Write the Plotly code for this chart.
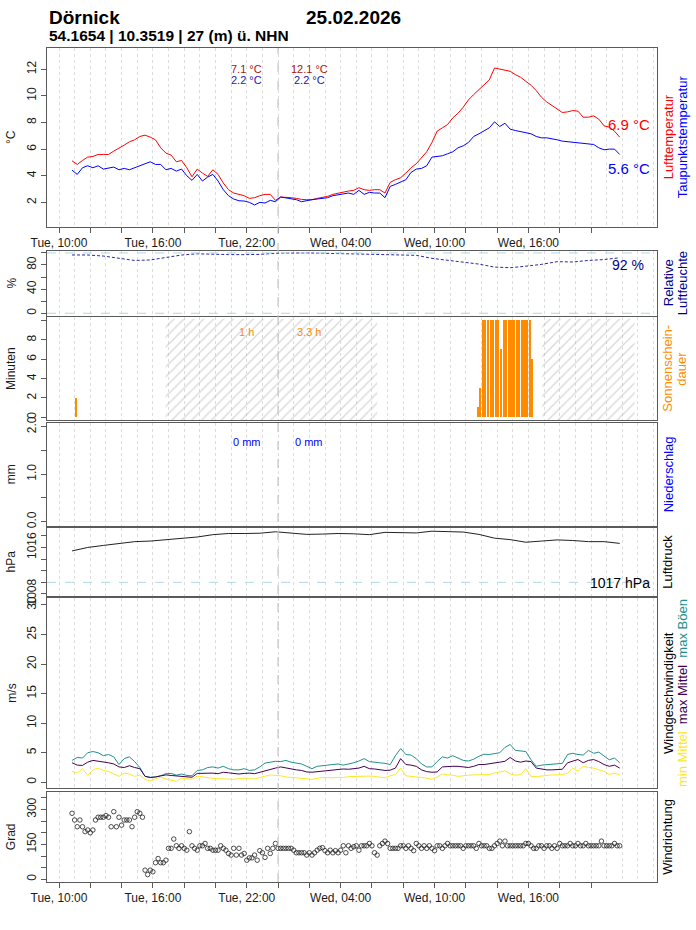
import pandas as pd
import plotly.graph_objects as go
from plotly.subplots import make_subplots

# station header
station = "Dörnick"
date_str = "25.02.2026"
location = "54.1654 | 10.3519 | 27 (m) ü. NHN"

# 20 minute series (Tue 24.02. 10:50 .. Wed 25.02. 21:50)
t20 = pd.date_range("2026-02-24 10:50", periods=106, freq="20min")
temp = [5.12, 4.85, 5.15, 5.4, 5.45, 5.6, 5.6, 5.6, 5.85, 6.05,
        6.3, 6.55, 6.7, 6.95, 7.05, 6.9, 6.7, 6.1, 5.7, 5.55,
        5.05, 5.15, 4.6, 3.92, 4.5, 4.2, 3.95, 4.45, 4.1, 3.45,
        2.95, 2.7, 2.6, 2.5, 2.3, 2.35, 2.5, 2.6, 2.6, 2.15,
        2.4, 2.4, 2.35, 2.3, 2.22, 2.2, 2.2, 2.3, 2.35, 2.45,
        2.6, 2.7, 2.75, 2.85, 2.9, 3.1, 2.95, 2.9, 2.95, 2.95,
        2.7, 3.5, 3.7, 3.85, 4.2, 4.6, 4.9, 5.35, 5.8, 6.5,
        7.35, 7.6, 7.85, 8.35, 8.7, 9.15, 9.7, 10.1, 10.45, 10.8,
        11.2, 12.1, 12.0, 11.9, 11.85, 11.6, 11.4, 11.1, 10.8, 10.4,
        9.9, 9.55, 9.3, 9.05, 8.75, 8.8, 8.9, 8.85, 8.4, 8.4,
        8.5, 8.25, 7.75, 7.65, 7.35, 6.9]
dewpoint = [4.42, 4.1, 4.6, 4.75, 4.6, 4.75, 4.5, 4.55, 4.65, 4.45,
            4.55, 4.45, 4.6, 4.7, 4.85, 5.05, 4.85, 4.85, 4.45, 4.55,
            4.35, 4.5, 4.0, 3.65, 4.1, 3.6, 3.9, 4.1, 3.6, 2.95,
            2.5, 2.25, 2.12, 2.1, 2.0, 1.8, 2.0, 1.95, 2.15, 2.05,
            2.4, 2.35, 2.3, 2.2, 2.05, 2.15, 2.2, 2.25, 2.3, 2.35,
            2.5, 2.55, 2.65, 2.7, 2.6, 2.9, 2.6, 2.75, 2.7, 2.7,
            2.35, 3.2, 3.35, 3.5, 3.7, 4.25, 4.5, 4.55, 4.75, 5.4,
            5.45, 5.5, 5.65, 5.8, 6.1, 6.25, 6.5, 6.95, 7.15, 7.35,
            7.6, 8.05, 7.7, 7.95, 7.5, 7.4, 7.3, 7.25, 7.15, 6.95,
            6.85, 6.85, 6.8, 6.7, 6.6, 6.55, 6.5, 6.5, 6.4, 6.4,
            6.35, 6.1, 5.95, 6.0, 6.0, 5.6]
gust = [3.7, 4.2, 4.1, 5.0, 5.2, 5.0, 4.5, 4.7, 4.3, 3.0,
        4.0, 4.3, 3.5, 2.5, 1.0, 0.85, 0.9, 1.1, 1.45, 1.5,
        1.2, 1.4, 1.15, 1.1, 2.0, 2.1, 2.5, 2.6, 2.4, 2.7,
        2.3, 2.1, 2.1, 2.3, 2.0, 2.1, 2.6, 3.25, 3.4, 3.55,
        3.5, 3.7, 3.4, 3.2, 3.1, 2.7, 2.3, 2.7, 2.85, 2.9,
        3.0, 3.1, 2.9, 3.05, 3.3, 3.6, 4.0, 3.5, 3.45, 3.3,
        3.2, 3.0, 4.5, 5.7, 4.7, 4.6, 4.0, 3.1, 2.6, 2.6,
        3.5, 4.3, 4.1, 4.5, 4.1, 3.7, 3.6, 3.9, 4.4, 4.75,
        4.7, 4.8, 5.0, 5.9, 6.4, 5.4, 5.3, 5.2, 3.8, 2.7,
        2.9, 3.0, 3.0, 3.1, 3.2, 4.7, 4.9, 4.7, 4.6, 5.4,
        4.9, 5.1, 4.4, 3.8, 4.1, 3.3]
wind_max = [3.3, 2.9, 2.85, 3.4, 3.7, 3.6, 3.5, 3.3, 3.1, 2.6,
            2.5, 2.8, 2.5, 2.3, 1.0, 0.8, 0.9, 1.1, 1.25, 1.15,
            1.1, 1.0, 0.95, 0.85, 1.5, 1.55, 1.5, 1.55, 1.45, 1.7,
            1.6, 1.45, 1.4, 1.5, 1.55, 1.45, 1.7, 1.95, 2.25, 2.4,
            2.6, 2.4, 2.25, 2.1, 2.0, 1.75, 1.7, 1.8, 1.85, 1.9,
            2.1, 2.15, 2.25, 2.2, 2.3, 2.4, 2.7, 2.3, 2.25, 2.1,
            2.0, 2.05, 2.4, 4.0, 3.0, 2.9, 2.7, 2.1, 1.8, 1.7,
            1.75, 2.6, 2.7, 2.7, 2.7, 2.6, 2.5, 2.7, 3.0, 3.0,
            3.1, 3.3, 3.4, 3.55, 4.2, 3.6, 3.4, 3.6, 3.5, 2.4,
            2.2, 2.1, 2.1, 2.1, 2.2, 3.3, 3.6, 3.85, 3.3, 3.7,
            3.85, 3.5, 3.0, 2.7, 2.9, 2.4]
wind_min = [1.85, 1.55, 2.3, 1.2, 2.1, 2.4, 2.0, 1.85, 1.4, 1.0,
            1.55, 1.4, 1.0, 1.2, 0.5, 0.2, 0.6, 0.85, 0.55, 0.4,
            0.15, 0.7, 0.6, 0.5, 1.05, 0.9, 0.7, 0.65, 0.6, 0.55,
            0.55, 0.5, 0.6, 0.7, 0.6, 0.55, 0.8, 1.0, 1.25, 1.15,
            1.1, 0.9, 0.8, 0.75, 0.7, 0.6, 0.5, 0.65, 0.8, 0.8,
            0.75, 0.85, 0.8, 0.95, 1.0, 1.0, 1.1, 1.05, 1.0, 0.85,
            0.75, 1.1, 1.3, 2.4, 1.1, 1.0, 0.85, 0.8, 0.7, 0.5,
            0.9, 1.4, 1.25, 1.2, 1.0, 1.15, 1.2, 1.25, 1.3, 1.25,
            1.3, 1.55, 1.7, 1.95, 1.45, 1.2, 1.3, 2.3, 1.0, 0.95,
            1.05, 1.2, 1.25, 1.25, 1.3, 1.55, 2.4, 1.85, 2.7, 2.5,
            2.4, 2.1, 1.85, 1.3, 1.55, 1.25]

# hourly series
t60 = pd.date_range("2026-02-24 10:50", periods=36, freq="60min")
humidity = [96.6, 96.6, 94.8, 91, 87.5, 88.3, 92, 96.5, 98.5, 97.6,
            97.2, 97.2, 97.5, 99.5, 100, 100, 99.5, 99, 98.5, 98.3,
            98, 97.3, 96, 91, 87.5, 85, 81.5, 76.5, 75.5, 78,
            81, 85.5, 85, 87.5, 89, 92]
pressure = [1015.4, 1016.0, 1016.35, 1016.7, 1017.0, 1017.1, 1017.3, 1017.6, 1017.8, 1018.2,
            1018.4, 1018.4, 1018.45, 1018.7, 1018.5, 1018.25, 1018.3, 1018.4, 1018.35, 1018.2,
            1018.6, 1018.6, 1018.5, 1018.8, 1018.75, 1018.65, 1018.25, 1017.6, 1017.35, 1016.9,
            1017.1, 1017.3, 1017.2, 1017.0, 1017.0, 1016.7]
precip = [0.0] * 36

# 10 minute wind direction
t10 = pd.date_range("2026-02-24 10:50", periods=211, freq="10min")
wind_dir = [284, 255, 226, 255, 226, 205, 212, 200, 212, 255,
            267, 267, 267, 274, 267, 226, 291, 226, 267, 233,
            255, 255, 255, 226, 267, 291, 284, 267, 39, 20,
            39, 32, 71, 89, 71, 71, 82, 133, 133, 173,
            144, 133, 144, 133, 125, 205, 144, 133, 125, 144,
            144, 154, 133, 133, 125, 125, 125, 144, 133, 125,
            111, 104, 133, 104, 133, 104, 111, 82, 92, 92,
            104, 82, 123, 114, 94, 133, 111, 133, 154, 133,
            133, 133, 133, 133, 133, 125, 114, 114, 114, 114,
            104, 114, 104, 114, 125, 133, 136, 123, 114, 125,
            114, 123, 114, 125, 144, 114, 144, 133, 140, 144,
            125, 144, 144, 144, 154, 144, 114, 104, 144, 154,
            164, 154, 133, 133, 133, 133, 144, 144, 133, 144,
            133, 123, 154, 144, 133, 144, 133, 144, 133, 123,
            144, 144, 133, 144, 154, 144, 144, 144, 144, 144,
            133, 144, 144, 144, 144, 133, 154, 144, 144, 144,
            133, 133, 144, 154, 164, 144, 164, 144, 144, 144,
            144, 144, 144, 144, 154, 154, 144, 133, 133, 144,
            144, 133, 144, 144, 133, 144, 133, 154, 144, 144,
            144, 154, 144, 144, 154, 144, 144, 154, 144, 144,
            144, 144, 144, 164, 144, 144, 144, 144, 154, 144, 144]

# sunshine minutes per 10 min
sun_times = list(pd.to_datetime(["2026-02-24 11:05"])) + \
    list(pd.date_range("2026-02-25 12:45", periods=22, freq="10min"))
sun_minutes = [2,
               1, 3, 10, 10, 10, 10, 10, 10, 10, 7, 10,
               10, 10, 10, 10, 10, 10, 10, 10, 10, 10, 6]

# night (hatched) periods
night_start = ["2026-02-24 16:49", "2026-02-25 16:53"]
night_end = ["2026-02-25 06:20", "2026-02-25 22:47"]

# daily summary
day_tmax = [7.1, 12.1]
day_tmin = [2.2, 2.2]
day_sun = ["1", "3.3"]
day_rain = ["0", "0"]
midnight = pd.Timestamp("2026-02-25 00:00")

# axis ticks
x_ticks = pd.date_range("2026-02-24 10:00", "2026-02-25 20:00", freq="2h")
x_labels = ["Tue, 10:00", "", "", "Tue, 16:00", "", "", "Tue, 22:00", "", "",
            "Wed, 04:00", "", "", "Wed, 10:00", "", "", "Wed, 16:00", "", ""]
y_ticks = {
    1: ([2, 4, 6, 8, 10, 12], ["2", "4", "6", "8", "10", "12"]),
    2: ([0, 20, 40, 60, 80, 100], ["0", "", "40", "", "80", ""]),
    3: ([0, 2, 4, 6, 8, 10], ["0", "2", "4", "6", "8", ""]),
    4: ([0, 0.5, 1, 1.5, 2], ["0.0", "", "1.0", "", "2.0"]),
    5: ([1008, 1010, 1012, 1014, 1016, 1018], ["1008", "", "", "", "1016", ""]),
    6: ([0, 5, 10, 15, 20, 25, 30], ["0", "5", "10", "15", "20", "25", "30"]),
    7: ([0, 50, 100, 150, 200, 250, 300, 350], ["0", "", "", "150", "", "", "300", ""]),
}
y_titles = {1: "°C", 2: "%", 3: "Minuten", 4: "mm", 5: "hPa", 6: "m/s", 7: "Grad"}

FONT = "Liberation Sans, Arial, sans-serif"
RED, BLUE = "#ff0000", "#0000ff"
NAVY = "#00008b"
ORANGE = "#ff8c00"
TEAL, PURPLE, YELLOW = "#21908c", "#440154", "#fde725"
BORDER = "#5a5a5a"

fig = make_subplots(rows=7, cols=1, shared_xaxes=True)

# temperature
fig.add_trace(go.Scatter(x=t20, y=temp, mode="lines", line=dict(color=RED, width=1)), row=1, col=1)
fig.add_trace(go.Scatter(x=t20, y=dewpoint, mode="lines", line=dict(color=BLUE, width=1)), row=1, col=1)

# humidity
fig.add_trace(go.Scatter(x=t60, y=humidity, mode="lines",
                         line=dict(color="#2a2aa0", width=1, dash="3px,2px")), row=2, col=1)

# night hatch + sunshine
hx, hy = [], []
for s, e in zip(night_start, night_end):
    hx += [s, e, e, s, s, None]
    hy += [-0.3, -0.3, 10.2, 10.2, -0.3, None]
fig.add_trace(go.Scatter(x=hx, y=hy, mode="lines", line=dict(width=0), fill="toself",
                         fillcolor="rgba(0,0,0,0)",
                         fillpattern=dict(shape="/", fgcolor="#b0b0b0", bgcolor="rgba(0,0,0,0)",
                                          size=7, solidity=0.18)), row=3, col=1)
fig.add_trace(go.Bar(x=sun_times, y=sun_minutes, width=10 * 60 * 1000 * 0.8,
                     marker=dict(color=ORANGE, line=dict(width=0))), row=3, col=1)

# precipitation
fig.add_trace(go.Bar(x=t60, y=precip, marker=dict(color=BLUE)), row=4, col=1)

# pressure
fig.add_trace(go.Scatter(x=t60, y=pressure, mode="lines", line=dict(color="#222222", width=1)), row=5, col=1)

# wind speed
fig.add_trace(go.Scatter(x=t20, y=gust, mode="lines", line=dict(color=TEAL, width=1)), row=6, col=1)
fig.add_trace(go.Scatter(x=t20, y=wind_max, mode="lines", line=dict(color=PURPLE, width=1)), row=6, col=1)
fig.add_trace(go.Scatter(x=t20, y=wind_min, mode="lines", line=dict(color=YELLOW, width=1)), row=6, col=1)

# wind direction
fig.add_trace(go.Scatter(x=t10, y=wind_dir, mode="markers",
                         marker=dict(symbol="circle-open", size=4.5, color="#222222",
                                     line=dict(width=0.8))), row=7, col=1)

# reference lines
for yv in (0, 100):
    fig.add_hline(y=yv, row=2, col=1, line=dict(color="#add8e6", width=1, dash="dash"))
fig.add_hline(y=1010, row=5, col=1, line=dict(color="#add8e6", width=1, dash="dash"))
fig.add_shape(type="line", xref="x", yref="paper", x0=midnight, x1=midnight, y0=0, y1=1,
              line=dict(color="#c4c4c4", width=1.2, dash="dash"))

# panel geometry (pixels from top of the page)
TOP, BOT = 48, 882
panels = {1: (48, 226.7), 2: (250.5, 316), 3: (317.3, 420), 4: (422.7, 526),
          5: (527.7, 595.7), 6: (597.7, 788.3), 7: (791.7, 882)}
y_ranges = {1: [0.17, 13.6], 2: [-4.5, 104], 3: [-0.28, 10.34], 4: [-0.09, 2.084],
            5: [1007.7, 1019.4], 6: [-1.02, 31.23], 7: [-12, 377]}


def dom(top, bottom):
    return [(BOT - bottom) / (BOT - TOP), (BOT - top) / (BOT - TOP)]


def py(px):
    return (BOT - px) / (BOT - TOP)


def pxx(px):
    return (px - 47) / (657 - 47)


x_range = [pd.Timestamp("2026-02-24 09:14"), pd.Timestamp("2026-02-26 00:13")]
for r in range(1, 8):
    show_lab = r in (1, 7)
    fig.update_xaxes(
        range=x_range, tickmode="array", tickvals=x_ticks, ticktext=x_labels,
        ticks="outside" if show_lab else "", ticklen=5, tickcolor=BORDER,
        showticklabels=show_lab, tickangle=0,
        tickfont=dict(family=FONT, size=12, color="#1a1a1a"),
        showline=True, mirror=True, linecolor=BORDER, linewidth=1,
        showgrid=True, gridcolor="#dcdcdc", griddash="dot", gridwidth=1,
        minor=dict(tick0="2026-02-24 10:00", dtick=3600000, showgrid=True,
                   gridcolor="#dcdcdc", griddash="dot", gridwidth=1),
        zeroline=False, row=r, col=1)
    tv, tt = y_ticks[r]
    fig.update_yaxes(
        domain=dom(*panels[r]), range=y_ranges[r], tickmode="array", tickvals=tv, ticktext=tt,
        tickangle=-90, ticks="outside", ticklen=5, tickcolor=BORDER,
        tickfont=dict(family=FONT, size=12, color="#1a1a1a"),
        title=dict(text=y_titles[r], font=dict(family=FONT, size=12, color="#1a1a1a"), standoff=6),
        showline=True, mirror=True, linecolor=BORDER, linewidth=1,
        showgrid=False, zeroline=False, row=r, col=1)

ann = []


def note(text, x, y, color="black", size=13, angle=0, xanchor="center", yanchor="middle",
         xref="paper", yref="paper", bold=False, yshift=0):
    if bold:
        text = "<b>" + text + "</b>"
    ann.append(dict(text=text, x=x, y=y, xref=xref, yref=yref, showarrow=False, textangle=angle,
                    xanchor=xanchor, yanchor=yanchor, yshift=yshift,
                    font=dict(family=FONT, size=size, color=color)))


# header
note(station, pxx(47), py(17), size=19, xanchor="left", bold=True)
note(date_str, pxx(304), py(17), size=19, xanchor="left", bold=True)
note(location, pxx(47), py(35), size=15.5, xanchor="left", bold=True)

# right-hand panel labels
right_labels = {
    1: [("Lufttemperatur", RED), ("Taupunktstemperatur", BLUE)],
    2: [("Relative", NAVY), ("Luftfeuchte", NAVY)],
    3: [("Sonnenschein-", ORANGE), ("dauer", ORANGE)],
    4: [("Niederschlag", BLUE)],
    5: [("Luftdruck", "black")],
    6: [("Windgeschwindigkeit", "black"),
        (f"<span style='color:{YELLOW}'>min Mittel</span>  "
         f"<span style='color:{PURPLE}'>max Mittel</span>  "
         f"<span style='color:{TEAL}'>max Böen</span>", "black")],
    7: [("Windrichtung", "black")],
}
for r, lines in right_labels.items():
    top, bottom = panels[r]
    for i, (txt, col) in enumerate(lines):
        note(txt, pxx(668 + 14 * i), py((top + bottom) / 2), color=col, size=13, angle=-90)

# daily max / min etc.
days_x = [midnight - pd.Timedelta(hours=2), midnight + pd.Timedelta(hours=2)]
for i, dx in enumerate(days_x):
    note(f"{day_tmax[i]:.1f} °C", dx, 0.885, color="#a51515", size=11, xref="x", yref="y domain")
    note(f"{day_tmin[i]:.1f} °C", dx, 0.82, color="#2222a8", size=11, xref="x", yref="y domain")
    note(f"{day_sun[i]} h", dx, 0.86, color=ORANGE, size=11, xref="x3", yref="y3 domain")
    note(f"{day_rain[i]} mm", dx, 0.816, color=BLUE, size=11, xref="x4", yref="y4 domain")

# current values
note(f"{temp[-1]:.1f} °C", 0.992, temp[-1], color=RED, size=15, xanchor="right",
     xref="x domain", yref="y", yshift=13)
note(f"{dewpoint[-1]:.1f} °C", 0.992, dewpoint[-1], color=BLUE, size=15, xanchor="right",
     xref="x domain", yref="y", yshift=-14)
note(f"{humidity[-1]:.0f} %", 0.982, humidity[-1], color=NAVY, size=14, xanchor="right",
     xref="x2 domain", yref="y2", yshift=-7)
note(f"{round(pressure[-1])} hPa", 0.9926, 0.194, color="black", size=14, xanchor="right",
     xref="x5 domain", yref="y5 domain")

fig.update_layout(
    width=696, height=930,
    margin=dict(l=47, r=39, t=48, b=48),
    paper_bgcolor="white", plot_bgcolor="white",
    showlegend=False, bargap=0,
    font=dict(family=FONT, size=12, color="black"),
    annotations=ann,
)

# page body margin would shift the figure, drop it; no toolbar
fig.write_html("out.html", config={"displayModeBar": False},
               post_script="document.body.style.margin='0px';")
